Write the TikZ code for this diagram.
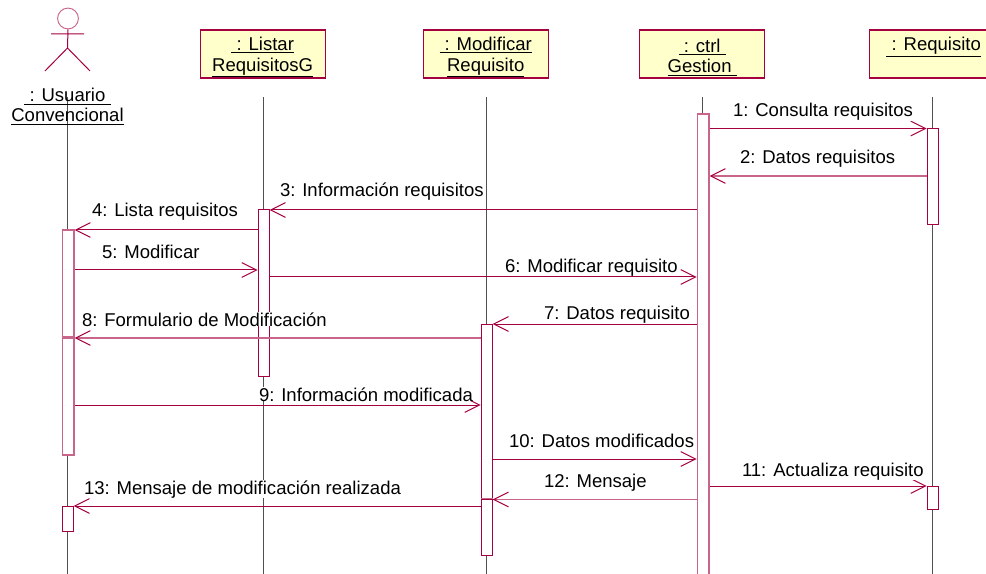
\documentclass[tikz,border=0pt]{standalone}
\usepackage{fontspec}
\setmainfont{Liberation Sans}
\usetikzlibrary{arrows.meta}
\definecolor{umlline}{HTML}{A50040}
\definecolor{umlsoft}{HTML}{C9648A}
\definecolor{umlfill}{HTML}{FFFFCC}
\definecolor{lifegray}{HTML}{505050}
\newcommand{\ul}[1]{\underline{#1}}
\newcommand{\boxstrut}{\rule{0pt}{15pt}}
\tikzset{
  x=0.75pt,y=-0.75pt,
  every node/.style={font=\fontsize{13.9pt}{15.4pt}\selectfont},
  objbox/.style={draw=umlline,line width=0.8pt,fill=umlfill,anchor=north west,minimum height=36pt,inner sep=0pt,align=center},
  lifeline/.style={draw=lifegray,line width=0.7pt},
  barbase/.style={fill=white,anchor=north west,minimum width=8.4pt,inner sep=0pt},
  activation/.style={barbase,draw=umlline,line width=0.75pt},
  softbar/.style={barbase,draw=umlsoft,line width=1.4pt},
  softedge/.style={draw=umlsoft,line width=1.2pt},
  msg/.style={draw=umlline,line width=0.75pt,-{Straight Barb[length=11pt,width=11pt,line width=0.75pt]}},
  softmsg/.style={draw=umlsoft,line width=1.4pt,-{Straight Barb[length=11pt,width=11pt,line width=0.75pt,color=umlline]}},
  msglabel/.style={anchor=base west,fill=white,inner sep=0pt,outer sep=0pt},
  actorline/.style={draw=umlline,line width=0.75pt}
}
\begin{document}
\begin{tikzpicture}
\useasboundingbox (0,0) rectangle (986,574);
% lifeline ends
\coordinate (uT) at (67.5,97);  \coordinate (uB) at (67.5,574);
\coordinate (lT) at (263.5,97); \coordinate (lB) at (263.5,574);
\coordinate (mT) at (486.5,97); \coordinate (mB) at (486.5,574);
\coordinate (cT) at (702.5,97); \coordinate (cB) at (702.5,574);
\coordinate (rT) at (932.5,97); \coordinate (rB) at (932.5,574);
\draw[lifeline] (uT) -- (uB);
\draw[lifeline] (lT) -- (lB);
\draw[lifeline] (mT) -- (mB);
\draw[lifeline] (cT) -- (cB);
\draw[lifeline] (rT) -- (rB);
% actor
\node[circle,draw=umlsoft,line width=0.7pt,minimum size=15.6pt,inner sep=0pt] (head) at (68,18.5) {};
\coordinate (armL) at (51,34); \coordinate (armR) at (84,34);
\coordinate (hip) at (67.5,48); \coordinate (legL) at (45,71); \coordinate (legR) at (90,71);
\draw[actorline] (head.south) -- (hip) (armL) -- (armR) (legL) -- (hip) -- (legR);
\node[anchor=base,inner sep=0pt] (uName1) at (67.5,102) {\ul{\ : Usuario\ }};
\node[anchor=base,inner sep=0pt] (uName2) at (67.5,122) {\ul{Convencional}};
% objects
\node[objbox,minimum width=94pt] (listar) at (199.5,29.5) {\boxstrut\ul{\ : Listar}\\\ul{RequisitosG}};
\node[objbox,minimum width=94pt] (modif) at (422.5,29.5) {\boxstrut\ul{\ : Modificar}\\\ul{Requisito}};
\node[objbox,minimum width=94pt] (ctrl) at (639,29.5) {\boxstrut\ul{\ : ctrl\ }\\\ul{Gestion\ }};
\node[objbox,minimum width=97pt] (req) at (868.5,29.5) {\boxstrut\ul{\ : Requisito}\\\phantom{\ul{Xq}}};
% activations
\node[softbar,minimum height=346pt] (cA) at (696.5,113.5) {};
\node[activation,minimum height=72pt] (rA1) at (926.5,128.5) {};
\node[activation,minimum height=17pt] (rA2) at (926.5,486) {};
\node[activation,minimum height=125pt] (lA) at (257.5,209.5) {};
\node[softbar,minimum height=80pt] (uA1) at (61.5,229) {};
\node[softbar,minimum height=88pt] (uA2) at (61.5,337) {};
\node[activation,minimum height=19pt] (uA3) at (61.5,505.5) {};
\node[activation,minimum height=131pt] (mA1) at (480.5,323.5) {};
\node[activation,minimum height=42pt] (mA2) at (480.5,498.5) {};
\draw[softedge] (mA2.north west) -- (mA2.north east);
% messages
\draw[msg] (cA.east |- 0,128.5) -- (rA1.west |- 0,128.5);
\draw[softmsg] (rA1.west |- 0,176) -- (cA.east |- 0,176);
\draw[msg] (cA.west |- 0,210) -- (lA.east |- 0,210);
\draw[msg] (lA.west |- 0,230) -- (uA1.east |- 0,230);
\draw[msg] (uA1.east |- 0,270) -- (lA.west |- 0,270);
\draw[msg] (lA.east |- 0,277) -- (cA.west |- 0,277);
\draw[msg] (cA.west |- 0,324) -- (mA1.east |- 0,324);
\draw[softmsg] (mA1.west |- 0,338) -- (uA2.east |- 0,338);
\draw[msg] (uA2.east |- 0,405) -- (mA1.west |- 0,405);
\draw[msg] (mA1.east |- 0,459) -- (cA.west |- 0,459);
\draw[msg] (cA.east |- 0,486) -- (rA2.west |- 0,486);
\draw[softmsg] (cA.west |- 0,499.5) -- (mA2.east |- 0,499.5);
\draw[msg] (mA2.west |- 0,506) -- (uA3.east |- 0,506);
% labels
\node[msglabel] (t1) at (733,117) {1: Consulta requisitos};
\node[msglabel] (t2) at (740,163.5) {2: Datos requisitos};
\node[msglabel] (t3) at (280,197) {3: Información requisitos};
\node[msglabel] (t4) at (92,217) {4: Lista requisitos};
\node[msglabel] (t5) at (102,258) {5: Modificar};
\node[msglabel] (t6) at (505,272.5) {6: Modificar requisito};
\node[msglabel] (t7) at (544,319.5) {7: Datos requisito};
\node[msglabel] (t8) at (82,326) {8: Formulario de Modificación};
\node[msglabel] (t9) at (259,401) {9: Información modificada};
\node[msglabel] (t10) at (509,447.5) {10: Datos modificados};
\node[msglabel] (t11) at (742,476.5) {11: Actualiza requisito};
\node[msglabel] (t12) at (544,487.5) {12: Mensaje};
\node[msglabel] (t13) at (84,494) {13: Mensaje de modificación realizada};
\end{tikzpicture}
\end{document}
